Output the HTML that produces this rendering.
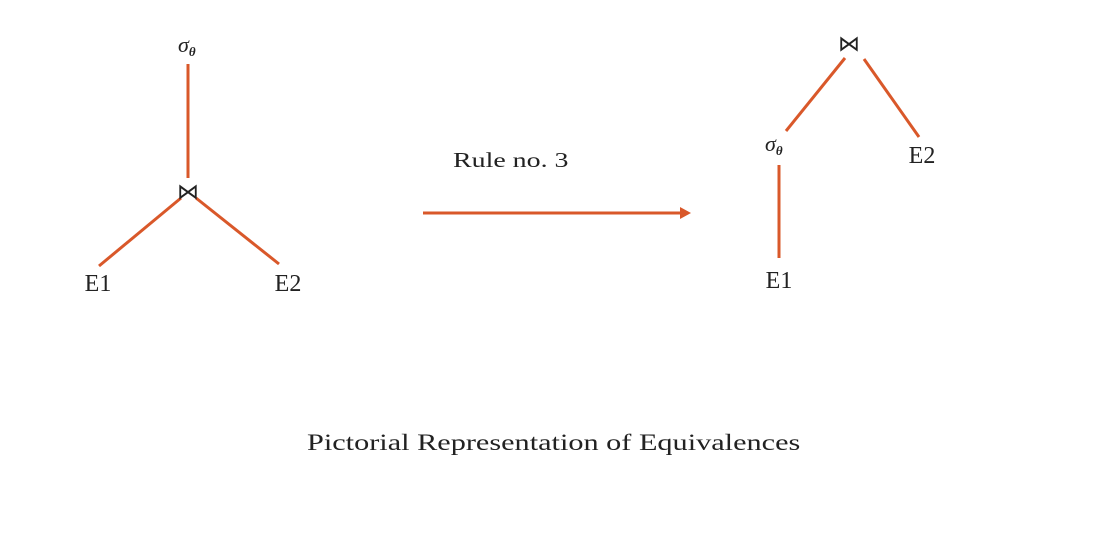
<!DOCTYPE html>
<html><head><meta charset="utf-8"><style>
html,body{margin:0;padding:0;background:#fff;}
svg{display:block;}
text{font-family:"Liberation Serif",serif;fill:#222;}
</style></head><body>
<svg width="1098" height="537" viewBox="0 0 1098 537">
<g>
<line x1="188" y1="64" x2="188" y2="178" stroke="#d9582a" stroke-width="3"/>
<line x1="181" y1="198" x2="99" y2="266" stroke="#d9582a" stroke-width="3"/>
<line x1="196" y1="198" x2="279" y2="264" stroke="#d9582a" stroke-width="3"/>
<text x="178" y="52" font-size="22" font-style="italic">σ<tspan font-size="13" dy="4" font-weight="bold">θ</tspan></text>
<text x="188" y="199" font-size="22" text-anchor="middle">⋈</text>
<text x="98" y="291" font-size="24" text-anchor="middle">E1</text>
<text x="288" y="291" font-size="24" text-anchor="middle">E2</text>
</g>
<g>
<text transform="translate(453,167) scale(1.33,1)" font-size="21">Rule no. 3</text>
<line x1="423" y1="213" x2="682" y2="213" stroke="#d9582a" stroke-width="3"/>
<polygon points="691,213 680,207 680,219" fill="#d9582a"/>
</g>
<g>
<line x1="845" y1="58" x2="786" y2="131" stroke="#d9582a" stroke-width="3"/>
<line x1="864" y1="59" x2="919" y2="137" stroke="#d9582a" stroke-width="3"/>
<line x1="779" y1="165" x2="779" y2="258" stroke="#d9582a" stroke-width="3"/>
<text x="849" y="51" font-size="22" text-anchor="middle">⋈</text>
<text x="765" y="151" font-size="22" font-style="italic">σ<tspan font-size="13" dy="4" font-weight="bold">θ</tspan></text>
<text x="922" y="163" font-size="24" text-anchor="middle">E2</text>
<text x="779" y="288" font-size="24" text-anchor="middle">E1</text>
</g>
<text transform="translate(307,450) scale(1.316,1)" font-size="23">Pictorial Representation of Equivalences</text>
</svg>
</body></html>
